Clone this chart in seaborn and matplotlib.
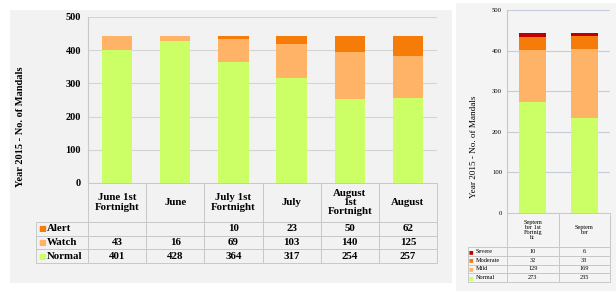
import matplotlib
matplotlib.use("Agg")
import matplotlib.pyplot as plt
from matplotlib.patches import Rectangle
from matplotlib.table import Table
import seaborn as sns
import numpy as np

# ---------------- data ----------------
left_categories = ["June 1st\nFortnight", "June", "July 1st\nFortnight", "July",
                   "August\n1st\nFortnight", "August"]
alert = [None, None, 10, 23, 50, 62]
watch = [43, 16, 69, 103, 140, 125]
normal = [401, 428, 364, 317, 254, 257]

right_categories = ["Septem\nber 1st\nFortnig\nht", "Septem\nber"]
severe = [10, 6]
moderate = [32, 33]
mild = [129, 169]
normal_sep = [273, 235]

y_ticks = [0, 100, 200, 300, 400, 500]
y_label = "Year 2015 - No. of Mandals"

GREEN = "#ccff66"
LIGHT_OR = "#ffb366"
ORANGE = "#f67c0a"
RED = "#c00000"

plt.rcParams["font.family"] = ["Liberation Serif", "DejaVu Sans"]

W, H = 616, 293
fig = plt.figure(figsize=(W / 100, H / 100), dpi=100)
fig.patch.set_facecolor("white")

def px_rect(x0, y0, x1, y1, color):
    r = Rectangle((x0 / W, 1 - y1 / H), (x1 - x0) / W, (y1 - y0) / H,
                  transform=fig.transFigure, facecolor=color, edgecolor="none", zorder=-10)
    fig.add_artist(r)

px_rect(10, 10, 452, 283, "#f2f2f2")
px_rect(456, 3, 616, 291, "#f4f4f4")


def stacked(ax, cats, series, colors):
    cum = np.zeros(len(cats))
    cums = []
    for s in series:
        cum = cum + np.array([0 if v is None else v for v in s], dtype=float)
        cums.append(cum.copy())
    for c, col in reversed(list(zip(cums, colors))):
        sns.barplot(x=cats, y=c, color=col, width=0.52, saturation=1,
                    linewidth=0, ax=ax, zorder=3)


def add_table(ax, cats, rows, w, h_head, h_row, fs, weight, pad, mfs, edge):
    n = len(cats)
    total = h_head + len(rows) * h_row
    # bbox covers the data grid only; the row-label column sits to its left
    tbl = Table(ax, bbox=[0, -total, 1, total])
    tbl.auto_set_font_size(False)
    for j, c in enumerate(cats):
        tbl.add_cell(0, j, width=1 / n, height=h_head, text=c, loc="center")
    for i, (lab, vals, col) in enumerate(rows):
        cell = tbl.add_cell(i + 1, -1, width=w, height=h_row, text=lab, loc="left")
        cell.PAD = pad
        for j, v in enumerate(vals):
            tbl.add_cell(i + 1, j, width=1 / n, height=h_row,
                         text="" if v is None else str(v), loc="center")
        yc = -h_head - (i + 0.5) * h_row
        ax.text(-w + 0.006, yc, "■", transform=ax.transAxes, color=col,
                fontsize=mfs, ha="left", va="center", family="DejaVu Sans",
                clip_on=False)
    for key, cell in tbl.get_celld().items():
        cell.set_facecolor("none")
        cell.set_edgecolor(edge)
        cell.set_linewidth(0.7)
        t = cell.get_text()
        t.set_fontsize(fs)
        t.set_fontweight(weight)
        t.set_linespacing(1.05)
    ax.add_table(tbl)


def style_axis(ax, n, tick_fs, weight, grid_color, label_fs, label_xy, tick_pad):
    ax.set_facecolor("none")
    ax.set_xlim(-0.5, n - 0.5)
    ax.set_ylim(0, 500)
    ax.set_yticks(y_ticks)
    ax.set_yticklabels([str(t) for t in y_ticks], fontsize=tick_fs, fontweight=weight)
    ax.set_xticks([])
    ax.set_xlabel("")
    ax.tick_params(axis="y", length=0, pad=tick_pad)
    ax.yaxis.grid(True, color=grid_color, lw=0.8)
    ax.set_axisbelow(True)
    for s in ["top", "right", "bottom"]:
        ax.spines[s].set_visible(False)
    ax.spines["left"].set_color("#c8c8c8")
    ax.spines["left"].set_linewidth(0.8)
    ax.set_ylabel(y_label, fontsize=label_fs, fontweight=weight)
    ax.yaxis.set_label_coords(*label_xy)


# ---------------- left panel ----------------
axL = fig.add_axes([88 / W, 110 / H, 349 / W, 166 / H])
stacked(axL, left_categories, [normal, watch, alert], [GREEN, LIGHT_OR, ORANGE])
style_axis(axL, len(left_categories), 7.5, "bold", "#d4d4d4", 7.5,
           ((25 - 88) / 349, (183 - 127) / 166), 5)
add_table(axL, left_categories,
          [("Alert", alert, ORANGE), ("Watch", watch, LIGHT_OR), ("Normal", normal, GREEN)],
          w=52 / 349, h_head=39 / 166, h_row=13.7 / 166, fs=7.8, weight="bold",
          pad=0.21, mfs=6, edge="#c8c8c8")

# ---------------- right panel ----------------
axR = fig.add_axes([507 / W, 80 / H, 103 / W, 203 / H])
stacked(axR, right_categories, [normal_sep, mild, moderate, severe],
        [GREEN, LIGHT_OR, ORANGE, RED])
style_axis(axR, len(right_categories), 4.8, "normal", "#c5cbd8", 6.6,
           ((478 - 507) / 103, (213 - 147) / 203), 3.5)
add_table(axR, right_categories,
          [("Severe", severe, RED), ("Moderate", moderate, ORANGE),
           ("Mild", mild, LIGHT_OR), ("Normal", normal_sep, GREEN)],
          w=39 / 103, h_head=34 / 203, h_row=8.75 / 203, fs=4.5, weight="normal",
          pad=0.2, mfs=3.5, edge="#c8c8c8")

fig.savefig("out.png", dpi=100)
